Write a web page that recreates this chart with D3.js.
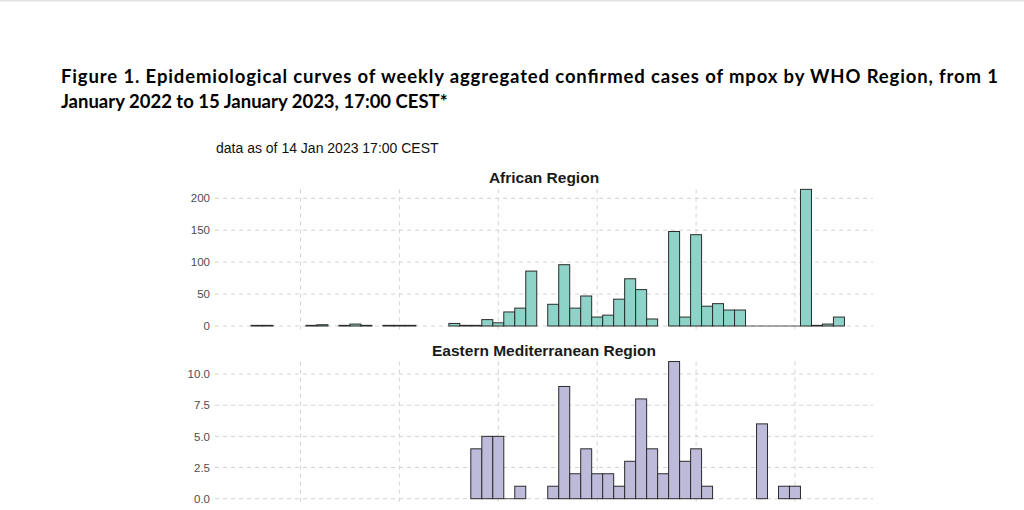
<!DOCTYPE html>
<html>
<head>
<meta charset="utf-8">
<script src="https://cdn.jsdelivr.net/npm/d3@7"></script>
<style>
  body { margin: 0; background: #fff; }
  svg { display: block; }
</style>
</head>
<body>
<div id="plot"></div>
<script>
// weekly confirmed mpox cases, ISO weeks from 3 Jan 2022 to 9 Jan 2023 (54 weeks)
// null = no bar drawn, 0 = flat bar drawn on the baseline
var weekStarts = d3.utcMonday.range(new Date(Date.UTC(2022, 0, 3)), new Date(Date.UTC(2023, 0, 16)));

var africanCases = [1, 1, null, null, null, 1, 2, null, 1, 3,
	1, null, 1, 1, 1, null, null, null, 4, 1,
	1, 10, 5, 22, 28, 86, null, 34, 96, 28,
	47, 14, 17, 42, 74, 57, 11, null, 148, 14,
	143, 31, 35, 25, 25, 0, 0, 0, 0, 0,
	214, 1, 3, 14];

var emroCases = [null, null, null, null, null, null, null, null, null, null,
	null, null, null, null, null, null, null, null, null, null,
	4, 5, 5, 0, 1, null, null, 1, 9, 2,
	4, 2, 2, 1, 3, 8, 4, 2, 11, 3,
	4, 1, null, null, null, null, 6, null, 1, 1,
	null, null, null, null];

var africanTicks = [0, 50, 100, 150, 200];
var emroTicks = [0, 2.5, 5, 7.5, 10];
// vertical grid lines sit on the centre of these weeks
var gridWeeks = [4, 13, 22, 31, 40, 49];

var width = 1024, height = 510;

var svg = d3.select('#plot')
	.append('svg')
	.attr('width', width)
	.attr('height', height);

// thin page edge at the top
svg.append('rect')
	.attr('x', 0).attr('y', 0)
	.attr('width', width).attr('height', 1.5)
	.style('fill', '#e2e2e2');

// figure caption, first line justified like the report
svg.append('text')
	.attr('x', 61).attr('y', 83)
	.attr('textLength', 937)
	.attr('lengthAdjust', 'spacing')
	.style('font-family', 'Lato, "Open Sans", sans-serif')
	.style('font-weight', 700)
	.style('font-size', '18.5px')
	.style('fill', '#000')
	.text('Figure 1. Epidemiological curves of weekly aggregated confirmed cases of mpox by WHO Region, from 1');

svg.append('text')
	.attr('x', 61).attr('y', 108)
	.style('font-family', 'Lato, "Open Sans", sans-serif')
	.style('font-weight', 700)
	.style('font-size', '18.5px')
	.style('fill', '#000')
	.text('January 2022 to 15 January 2023, 17:00 CEST*');

svg.append('text')
	.attr('x', 216).attr('y', 153)
	.style('font-family', '"Liberation Sans", Arial, sans-serif')
	.style('font-size', '14px')
	.style('fill', '#111')
	.text('data as of 14 Jan 2023 17:00 CEST');

var x = d3.scaleLinear()
	.domain([-3.28, 56.6])
	.range([215, 873]);

function drawPanel(opts) {
	var y = d3.scaleLinear()
		.domain(opts.domain)
		.range(opts.range);
	var top = y(d3.max(opts.values)),
		bottom = y(0) + 4;

	var g = svg.append('g');

	// strip title
	g.append('text')
		.attr('x', (x.range()[0] + x.range()[1]) / 2)
		.attr('y', opts.titleY)
		.attr('text-anchor', 'middle')
		.style('font-family', '"Liberation Sans", Arial, sans-serif')
		.style('font-weight', 700)
		.style('font-size', '15.5px')
		.style('fill', '#1a1a1a')
		.text(opts.title);

	// dashed grid
	g.selectAll('.hgrid')
		.data(opts.ticks)
		.enter()
		.append('line')
		.attr('x1', x.range()[0])
		.attr('x2', x.range()[1])
		.attr('y1', function (d) { return y(d); })
		.attr('y2', function (d) { return y(d); })
		.style('stroke', '#d3d3d3')
		.style('stroke-width', 1)
		.style('stroke-dasharray', '4,4');

	g.selectAll('.vgrid')
		.data(gridWeeks)
		.enter()
		.append('line')
		.attr('x1', function (d) { return x(d + 0.5); })
		.attr('x2', function (d) { return x(d + 0.5); })
		.attr('y1', top)
		.attr('y2', bottom)
		.style('stroke', '#d3d3d3')
		.style('stroke-width', 1)
		.style('stroke-dasharray', '4,4');

	// y axis labels only, no axis line
	var axis = d3.axisLeft(y)
		.tickValues(opts.ticks)
		.tickFormat(opts.format)
		.tickSize(0)
		.tickPadding(0);
	var ax = g.append('g')
		.attr('transform', 'translate(210,0)')
		.call(axis);
	ax.select('.domain').remove();
	ax.selectAll('text')
		.style('font-family', '"Liberation Sans", Arial, sans-serif')
		.style('font-size', '11.5px')
		.style('fill', '#4d4d4d');

	var data = opts.values.map(function (v, i) { return {week: weekStarts[i], i: i, v: v}; });

	g.selectAll('.bar')
		.data(data.filter(function (d) { return d.v > 0; }))
		.enter()
		.append('rect')
		.attr('x', function (d) { return x(d.i); })
		.attr('width', function (d) { return x(d.i + 1) - x(d.i); })
		.attr('y', function (d) { return y(d.v); })
		.attr('height', function (d) { return y(0) - y(d.v); })
		.style('fill', opts.color)
		.style('stroke', '#2b2b2b')
		.style('stroke-width', 1);

	// zero weeks show up as a flat outline on the baseline
	g.selectAll('.zero')
		.data(data.filter(function (d) { return d.v === 0; }))
		.enter()
		.append('line')
		.attr('x1', function (d) { return x(d.i); })
		.attr('x2', function (d) { return x(d.i + 1); })
		.attr('y1', y(0))
		.attr('y2', y(0))
		.style('stroke', '#555')
		.style('stroke-width', 1);
}

drawPanel({
	title: 'African Region',
	titleY: 183,
	values: africanCases,
	domain: [0, 200],
	range: [326, 198.3],
	ticks: africanTicks,
	format: d3.format('d'),
	color: '#8dd3c7'
});

drawPanel({
	title: 'Eastern Mediterranean Region',
	titleY: 356,
	values: emroCases,
	domain: [0, 10],
	range: [498.7, 374],
	ticks: emroTicks,
	format: d3.format('.1f'),
	color: '#bebada'
});
</script>
</body>
</html>
